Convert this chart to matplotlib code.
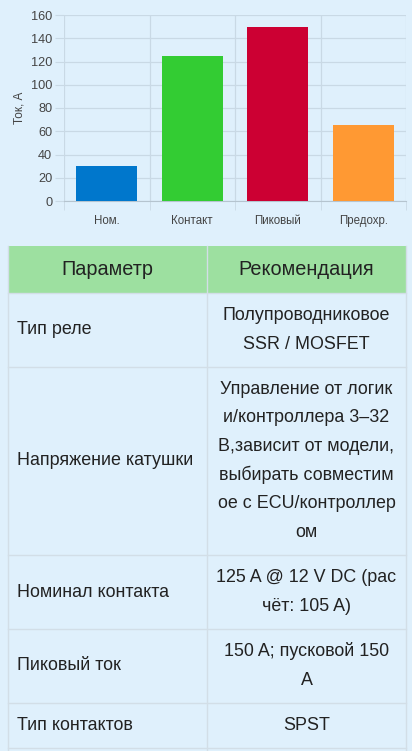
import matplotlib.pyplot as plt
from matplotlib.patches import Rectangle

plt.rcParams['font.family'] = ['Liberation Sans', 'DejaVu Sans']

# chart data
categories = ["Ном.", "Контакт", "Пиковый", "Предохр."]
currents = [30, 125, 150, 65]
bar_colors = ["#0077cc", "#33cc33", "#cc0033", "#ff9933"]
y_ticks = [0, 20, 40, 60, 80, 100, 120, 140, 160]

# table data
headers = ["Параметр", "Рекомендация"]
params = ["Тип реле", "Напряжение катушки", "Номинал контакта", "Пиковый ток", "Тип контактов"]
recs = [
    ["Полупроводниковое", "SSR / MOSFET"],
    ["Управление от логик", "и/контроллера 3–32", "В,зависит от модели,",
     "выбирать совместим", "ое с ECU/контроллер", "ом"],
    ["125 A @ 12 V DC (рас", "чёт: 105 A)"],
    ["150 A; пусковой 150", "A"],
    ["SPST"],
]

W, H = 412, 751
bg = "#dff0fc"
grid_c = "#c9d9e5"
txt_c = "#222222"

fig = plt.figure(figsize=(W / 100, H / 100), dpi=100)
fig.patch.set_facecolor(bg)

# ---- bar chart ----
ax = fig.add_axes([64 / W, 1 - 201 / H, 342 / W, 186 / H])
ax.set_facecolor(bg)
x = range(len(categories))
ax.bar(x, currents, width=0.71, color=bar_colors, zorder=3)
ax.set_xlim(-0.5, len(categories) - 0.5)
ax.set_ylim(0, 160)
ax.set_yticks(y_ticks)
ax.set_xticks(list(x))
ax.set_xticklabels(categories)
ax.set_xticks([i - 0.5 for i in range(len(categories) + 1)], minor=True)
ax.grid(True, which="major", axis="y", color=grid_c, lw=0.9, zorder=0)
ax.grid(True, which="minor", axis="x", color=grid_c, lw=0.9, zorder=0)
for s in ["top", "right", "left"]:
    ax.spines[s].set_visible(False)
ax.spines["bottom"].set_color("#b5c4cf")
ax.tick_params(axis="x", which="major", length=0, pad=10, labelsize=8.3, labelcolor="#444444")
ax.tick_params(axis="x", which="minor", length=6.5, color=grid_c)
ax.tick_params(axis="y", length=6.5, color=grid_c, labelsize=9.2, labelcolor="#444444", pad=2)
ax.set_ylabel("Ток, А", fontsize=8.5, color="#444444", labelpad=4)

# ---- table ----
tb = fig.add_axes([0, 0, 1, 1], zorder=-1)
tb.set_xlim(0, W)
tb.set_ylim(H, 0)
tb.axis("off")

left, mid, right = 8, 207, 406
top = 246
head_h = 47
line_h = 28.7
pad = 16.3
border = "#d2dee7"

tb.add_patch(Rectangle((left, top), right - left, head_h, facecolor="#9de0a0", edgecolor="none"))
tb.text((left + mid) / 2, top + head_h / 2, headers[0], ha="center", va="center",
        fontsize=14.3, color=txt_c)
tb.text((mid + right) / 2, top + head_h / 2, headers[1], ha="center", va="center",
        fontsize=14.3, color=txt_c)

y0 = top + head_h
row_edges = [top, y0]
for p, lines in zip(params, recs):
    h = len(lines) * line_h + pad
    yc = y0 + h / 2
    tb.text(17, yc, p, ha="left", va="center", fontsize=12.9, color=txt_c)
    for i, ln in enumerate(lines):
        yy = yc + (i - (len(lines) - 1) / 2) * line_h
        tb.text((mid + right) / 2, yy, ln, ha="center", va="center", fontsize=12.9, color=txt_c)
    y0 += h
    row_edges.append(y0)

for ye in row_edges[1:]:
    tb.plot([left, right], [ye, ye], color=border, lw=1.0)
for xe in [left, mid, right]:
    tb.plot([xe, xe], [top, H], color=border, lw=1.0)

fig.savefig("out.png", dpi=100, facecolor=bg)
